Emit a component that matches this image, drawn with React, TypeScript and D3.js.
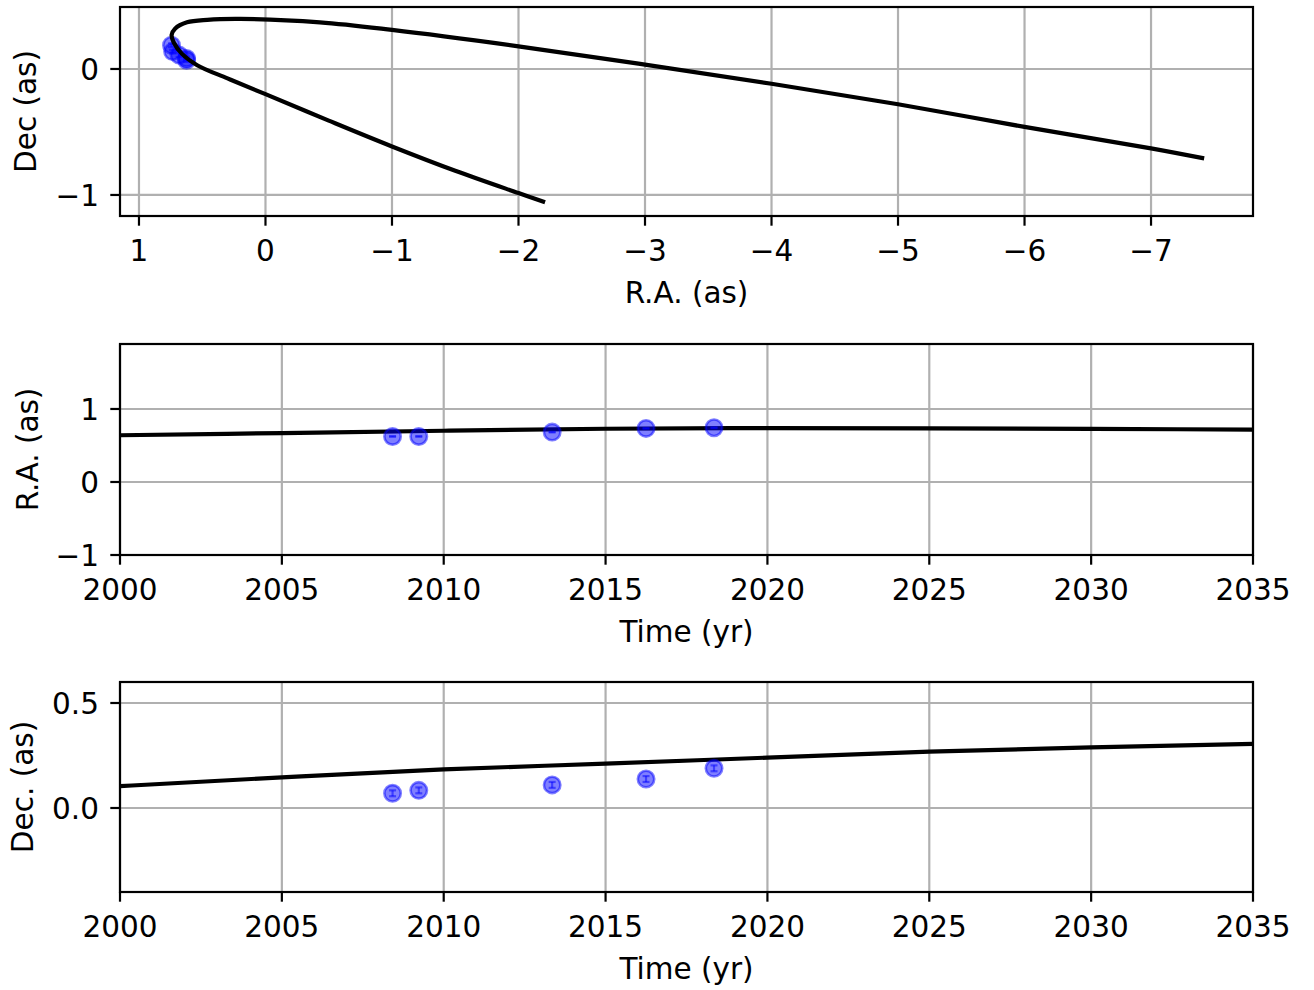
import React from "react";
import * as d3 from "d3";

// ---------- data ----------
// projected orbit (R.A., Dec in arcsec), from lower end round the turning point to the far end
const orbitRA = [-2.21, -2.0, -1.5, -1.0, -0.5, 0.0, 0.3, 0.54, 0.66, 0.725, 0.742, 0.715, 0.62, 0.46, 0.2, -0.43, -1.0, -2.0, -3.0, -4.0, -5.0, -6.0, -7.0, -7.42];
const orbitDec = [-1.058, -0.985, -0.808, -0.615, -0.41, -0.2, -0.075, 0.03, 0.12, 0.21, 0.27, 0.32, 0.37, 0.39, 0.397, 0.37, 0.31, 0.18, 0.035, -0.117, -0.28, -0.46, -0.63, -0.71];

// model curves vs time
const modelYears = [2000, 2005, 2010, 2015, 2020, 2025, 2030, 2035];
const modelRA = [0.64, 0.67, 0.702, 0.729, 0.739, 0.734, 0.727, 0.718];
const modelDec = [0.104, 0.146, 0.184, 0.211, 0.24, 0.268, 0.289, 0.305];

// observations
const obsYears = [2008.42, 2009.23, 2013.35, 2016.25, 2018.35];
const obsRA = [0.624, 0.624, 0.683, 0.734, 0.743];
const obsDec = [0.07, 0.084, 0.11, 0.138, 0.189];
const obsRAErr = [0.004, 0.004, 0.004, 0.004, 0.004];
const obsDecErr = [0.014, 0.014, 0.014, 0.014, 0.014];

// ticks
const topXTicks = [1, 0, -1, -2, -3, -4, -5, -6, -7];
const topYTicks = [0, -1];
const yearTicks = [2000, 2005, 2010, 2015, 2020, 2025, 2030, 2035];
const midYTicks = [-1, 0, 1];
const botYTicks = [0.0, 0.5];

// ---------- layout ----------
const W = 1314;
const H = 990;
const L = 120;
const R = 1253;
const FONT = "'DejaVu Sans', Verdana, sans-serif";
const FS = 29.5;
const GRID = "#b0b0b0";
const LW = 2.2;
const TICK = 9.7;

const fmtMinus = (s: string) => s.replace("-", "\u2212");

type PanelProps = {
  id: string;
  top: number;
  bottom: number;
  x: d3.ScaleLinear<number, number>;
  y: d3.ScaleLinear<number, number>;
  xTicks: number[];
  yTicks: number[];
  xFmt: (v: number) => string;
  yFmt: (v: number) => string;
  xLabel: string;
  yLabel: string;
  yLabelX: number;
  children?: React.ReactNode;
};

function Panel(p: PanelProps) {
  const { id, top, bottom, x, y } = p;
  const midY = (top + bottom) / 2;
  const tickBase = bottom + 45;
  return (
    <g>
      <defs>
        <clipPath id={id}>
          <rect x={L} y={top} width={R - L} height={bottom - top} />
        </clipPath>
      </defs>
      {/* grid */}
      {p.xTicks.map((t) => (
        <line key={"gx" + t} x1={x(t)} x2={x(t)} y1={top} y2={bottom} stroke={GRID} strokeWidth={LW} />
      ))}
      {p.yTicks.map((t) => (
        <line key={"gy" + t} x1={L} x2={R} y1={y(t)} y2={y(t)} stroke={GRID} strokeWidth={LW} />
      ))}
      <g clipPath={`url(#${id})`}>{p.children}</g>
      {/* spines */}
      <rect x={L} y={top} width={R - L} height={bottom - top} fill="none" stroke="#000" strokeWidth={LW} />
      {/* x ticks */}
      {p.xTicks.map((t) => (
        <g key={"tx" + t}>
          <line x1={x(t)} x2={x(t)} y1={bottom} y2={bottom + TICK} stroke="#000" strokeWidth={LW} />
          <text x={x(t)} y={tickBase} textAnchor="middle" fontFamily={FONT} fontSize={FS} fill="#000">
            {p.xFmt(t)}
          </text>
        </g>
      ))}
      {/* y ticks */}
      {p.yTicks.map((t) => (
        <g key={"ty" + t}>
          <line x1={L - TICK} x2={L} y1={y(t)} y2={y(t)} stroke="#000" strokeWidth={LW} />
          <text x={99} y={y(t) + 10.7} textAnchor="end" fontFamily={FONT} fontSize={FS} fill="#000">
            {p.yFmt(t)}
          </text>
        </g>
      ))}
      <text x={(L + R) / 2} y={tickBase + 42} textAnchor="middle" fontFamily={FONT} fontSize={FS} fill="#000">
        {p.xLabel}
      </text>
      <text
        transform={`translate(${p.yLabelX},${midY}) rotate(-90)`}
        textAnchor="middle"
        fontFamily={FONT}
        fontSize={FS}
        fill="#000"
      >
        {p.yLabel}
      </text>
    </g>
  );
}

function Markers({ xs, ys, errs, x, y }: { xs: number[]; ys: number[]; errs: number[]; x: (v: number) => number; y: (v: number) => number }) {
  return (
    <g>
      {xs.map((xv, i) => {
        const cx = x(xv);
        const cy = y(ys[i]);
        const y1 = y(ys[i] - errs[i]);
        const y2 = y(ys[i] + errs[i]);
        return (
          <g key={i}>
            <line x1={cx} x2={cx} y1={y1} y2={y2} stroke="blue" strokeOpacity={0.5} strokeWidth={2.2} />
            <line x1={cx - 3.5} x2={cx + 3.5} y1={y1} y2={y1} stroke="blue" strokeOpacity={0.5} strokeWidth={2.2} />
            <line x1={cx - 3.5} x2={cx + 3.5} y1={y2} y2={y2} stroke="blue" strokeOpacity={0.5} strokeWidth={2.2} />
            <circle cx={cx} cy={cy} r={8.2} fill="blue" fillOpacity={0.5} stroke="blue" strokeOpacity={0.5} strokeWidth={2.6} />
          </g>
        );
      })}
    </g>
  );
}

export default function App() {
  // top panel
  const xTop = d3.scaleLinear().domain([1.15, -7.806]).range([L, R]);
  const yTop = d3.scaleLinear().domain([-1.167, 0.492]).range([216, 7]);
  // middle
  const xTime = d3.scaleLinear().domain([2000, 2035]).range([L, R]);
  const yMid = d3.scaleLinear().domain([-1, 1.89]).range([555, 344]);
  // bottom
  const yBot = d3.scaleLinear().domain([-0.4, 0.6]).range([892, 682]);

  const orbitPts: [number, number][] = orbitRA.map((r, i) => [r, orbitDec[i]]);
  const orbitPath = d3
    .line<[number, number]>()
    .x((d) => xTop(d[0]))
    .y((d) => yTop(d[1]))
    .curve(d3.curveCatmullRom.alpha(0.5))(orbitPts) as string;

  const raPts: [number, number][] = modelYears.map((t, i) => [t, modelRA[i]]);
  const decPts: [number, number][] = modelYears.map((t, i) => [t, modelDec[i]]);
  const raPath = d3.line<[number, number]>().x((d) => xTime(d[0])).y((d) => yMid(d[1])).curve(d3.curveMonotoneX)(raPts) as string;
  const decPath = d3.line<[number, number]>().x((d) => xTime(d[0])).y((d) => yBot(d[1])).curve(d3.curveMonotoneX)(decPts) as string;

  return (
    <svg width={W} height={H} style={{ position: "absolute", left: 0, top: 0, background: "#fff" }}>
      <rect x={0} y={0} width={W} height={H} fill="#fff" />
      <Panel
        id="clipTop"
        top={7}
        bottom={216}
        x={xTop}
        y={yTop}
        xTicks={topXTicks}
        yTicks={topYTicks}
        xFmt={(v) => fmtMinus(String(v))}
        yFmt={(v) => fmtMinus(String(v))}
        xLabel="R.A. (as)"
        yLabel="Dec (as)"
        yLabelX={36}
      >
        <Markers xs={obsRA} ys={obsDec} errs={obsDecErr} x={xTop} y={yTop} />
        <path d={orbitPath} fill="none" stroke="#000" strokeWidth={4.2} strokeLinejoin="round" />
      </Panel>
      <Panel
        id="clipMid"
        top={344}
        bottom={555}
        x={xTime}
        y={yMid}
        xTicks={yearTicks}
        yTicks={midYTicks}
        xFmt={(v) => String(v)}
        yFmt={(v) => fmtMinus(String(v))}
        xLabel="Time (yr)"
        yLabel="R.A. (as)"
        yLabelX={38}
      >
        <path d={raPath} fill="none" stroke="#000" strokeWidth={4.2} />
        <Markers xs={obsYears} ys={obsRA} errs={obsRAErr} x={xTime} y={yMid} />
      </Panel>
      <Panel
        id="clipBot"
        top={682}
        bottom={892}
        x={xTime}
        y={yBot}
        xTicks={yearTicks}
        yTicks={botYTicks}
        xFmt={(v) => String(v)}
        yFmt={(v) => fmtMinus(v.toFixed(1))}
        xLabel="Time (yr)"
        yLabel="Dec. (as)"
        yLabelX={33}
      >
        <path d={decPath} fill="none" stroke="#000" strokeWidth={4.2} />
        <Markers xs={obsYears} ys={obsDec} errs={obsDecErr} x={xTime} y={yBot} />
      </Panel>
    </svg>
  );
}
